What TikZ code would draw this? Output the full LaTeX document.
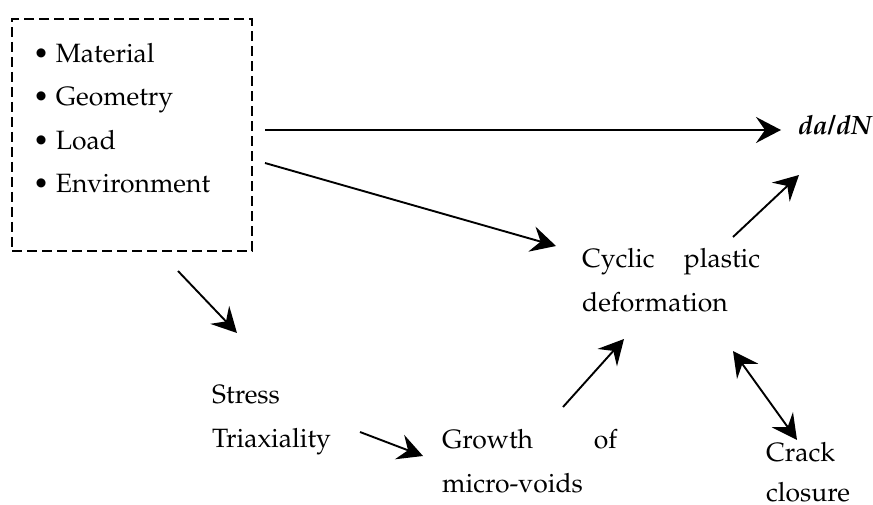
\documentclass[tikz,border=0pt]{standalone}
\usepackage[T1]{fontenc}
\usepackage{mathpazo}
\usetikzlibrary{arrows.meta}
\tikzset{
  lbl/.style={inner sep=0pt, anchor=base west, align=left, font=\fontsize{26.5}{43.5}\selectfont},
  tip/.tip={Stealth[length=25pt,width=26pt,inset=9pt]},
  arr/.style={line width=1.9pt, -tip},
  darr/.style={line width=1.9pt, tip-tip},
  dashbox/.style={draw, line width=1.3pt, dash pattern=on 10pt off 5pt, minimum width=240pt, minimum height=232pt, inner sep=0pt}
}
\begin{document}
\begin{tikzpicture}[x=1pt,y=-1pt]
\useasboundingbox (0,0) rectangle (873,505);
\node[dashbox] (box) at (132,135) {};
% multi-line nodes: the base anchor is the baseline of the last line
\node[lbl] (factors) at (33,193) {\textbullet\ Material\\ \textbullet\ Geometry\\ \textbullet\ Load\\ \textbullet\ Environment};
\node[lbl] (dadn) at (798,135) {\textbf{\textit{da/dN}}};
\node[lbl] (cyc) at (582,311) {\makebox[178pt][s]{Cyclic\hfill plastic}\\ deformation};
\node[lbl] (stress) at (212,447) {Stress\\ Triaxiality};
\node[lbl] (growth) at (442,492) {\makebox[175pt][s]{Growth\hfill of}\\ micro-voids};
\node[lbl, font=\fontsize{26.5}{40}\selectfont] (crack) at (766,501) {Crack\\ closure};
% arrow end points next to the nodes
\coordinate (b1) at (265,130);
\coordinate (d1) at (781,130);
\coordinate (b2) at (265,163);
\coordinate (c1) at (556,246);
\coordinate (c2) at (733,237);
\coordinate (d2) at (799,175);
\coordinate (b3) at (178,271);
\coordinate (s1) at (237,333);
\coordinate (s2) at (360,432);
\coordinate (g1) at (423,456);
\coordinate (g2) at (563,407);
\coordinate (c3) at (624,339);
\coordinate (c4) at (733,351);
\coordinate (k1) at (797,440);
\draw[arr] (b1) -- (d1);
\draw[arr] (b2) -- (c1);
\draw[arr] (c2) -- (d2);
\draw[arr] (b3) -- (s1);
\draw[arr] (s2) -- (g1);
\draw[arr] (g2) -- (c3);
\draw[darr] (c4) -- (k1);
\end{tikzpicture}
\end{document}
